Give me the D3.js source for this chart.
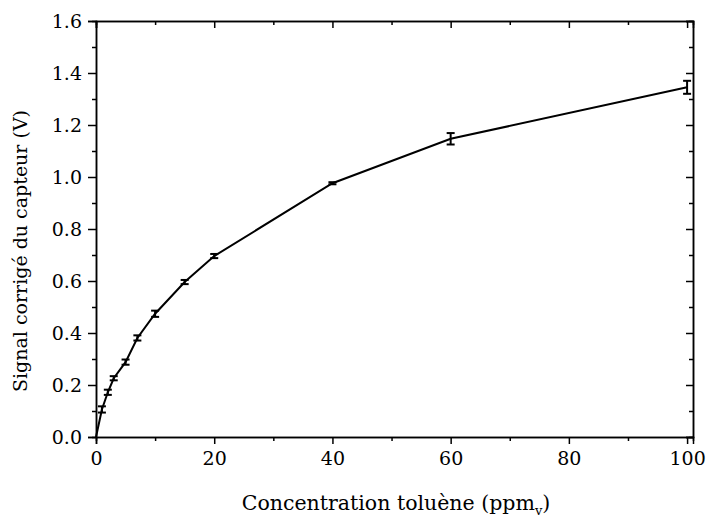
<!DOCTYPE html>
<html>
<head>
<meta charset="utf-8">
<script src="https://cdn.jsdelivr.net/npm/d3@7"></script>
<style>
  body { margin: 0; background: #fff; }
  svg text { font-family: "DejaVu Serif", serif; fill: #000; }
</style>
</head>
<body>
<div id="mydiv"></div>
<script>
// measured points (concentration ppmv, corrected signal V, error)
const conc   = [0, 1, 2, 3, 5, 7, 10, 15, 20, 40, 60, 100];
const signal = [0, 0.106, 0.172, 0.226, 0.288, 0.381, 0.474, 0.596, 0.696, 0.976, 1.147, 1.345];
const err    = [0, 0.012, 0.010, 0.008, 0.010, 0.010, 0.012, 0.008, 0.008, 0.004, 0.022, 0.025];

const xTicks = [0, 20, 40, 60, 80, 100];
const yTicks = [0.0, 0.2, 0.4, 0.6, 0.8, 1.0, 1.2, 1.4, 1.6];

const W = 708, H = 518;
const mLeft = 96, mRight = 693, mTop = 21, mBottom = 437;

const svg = d3.select("#mydiv")
  .append("svg")
  .attr("width", W)
  .attr("height", H);

const x = d3.scaleLinear().domain([0, 101]).range([mLeft, mRight]);
const y = d3.scaleLinear().domain([0, 1.6]).range([mBottom, mTop]);

const xMinor = d3.range(10, 101, 20);
const yMinor = d3.range(0.1, 1.6, 0.2);

// major ticks + labels, left & bottom (outside)
svg.append("g").attr("transform", `translate(0,${mBottom})`)
  .call(d3.axisBottom(x).tickValues(xTicks).tickSize(7).tickPadding(8).tickFormat(d3.format("d")));
svg.append("g").attr("transform", `translate(${mLeft},0)`)
  .call(d3.axisLeft(y).tickValues(yTicks).tickSize(8).tickPadding(6).tickFormat(d3.format(".1f")));
// minor ticks
svg.append("g").attr("transform", `translate(0,${mBottom})`)
  .call(d3.axisBottom(x).tickValues(xMinor).tickSize(4).tickFormat(""));
svg.append("g").attr("transform", `translate(${mLeft},0)`)
  .call(d3.axisLeft(y).tickValues(yMinor).tickSize(4).tickFormat(""));

// top & right (inside ticks)
svg.append("g").attr("transform", `translate(0,${mTop})`)
  .call(d3.axisTop(x).tickValues(xTicks).tickSize(-7).tickFormat(""));
svg.append("g").attr("transform", `translate(0,${mTop})`)
  .call(d3.axisTop(x).tickValues(xMinor).tickSize(-4).tickFormat(""));
svg.append("g").attr("transform", `translate(${mRight},0)`)
  .call(d3.axisRight(y).tickValues(yTicks).tickSize(-7).tickFormat(""));
svg.append("g").attr("transform", `translate(${mRight},0)`)
  .call(d3.axisRight(y).tickValues(yMinor).tickSize(-4).tickFormat(""));

svg.selectAll(".domain").attr("stroke", "#000").attr("stroke-width", 1.5);
svg.selectAll(".tick line").attr("stroke", "#000").attr("stroke-width", 1.5);
svg.selectAll(".tick text").style("font-size", "19px").attr("fill", "#000");

// the curve
const pts = conc.map((c, i) => ({ c, s: signal[i], e: err[i] }));
svg.append("path")
  .datum(pts)
  .attr("fill", "none")
  .attr("stroke", "#000")
  .attr("stroke-width", 2)
  .attr("d", d3.line().x(d => x(d.c)).y(d => y(d.s)));

// error bars
const eb = svg.append("g").attr("stroke", "#000").attr("stroke-width", 2)
  .selectAll("g").data(pts.filter(d => d.e > 0)).enter().append("g");
eb.append("line")
  .attr("x1", d => x(d.c)).attr("x2", d => x(d.c))
  .attr("y1", d => y(d.s - d.e)).attr("y2", d => y(d.s + d.e));
eb.append("line")
  .attr("x1", d => x(d.c) - 4).attr("x2", d => x(d.c) + 4)
  .attr("y1", d => y(d.s - d.e)).attr("y2", d => y(d.s - d.e));
eb.append("line")
  .attr("x1", d => x(d.c) - 4).attr("x2", d => x(d.c) + 4)
  .attr("y1", d => y(d.s + d.e)).attr("y2", d => y(d.s + d.e));

// axis titles
const xt = svg.append("text")
  .attr("x", 396).attr("y", 510)
  .attr("text-anchor", "middle")
  .style("font-size", "20.5px");
xt.append("tspan").text("Concentration toluène (ppm");
xt.append("tspan").attr("dy", 5).style("font-size", "13px").text("v");
xt.append("tspan").attr("dy", -5).text(")");

svg.append("text")
  .attr("transform", "translate(27,251) rotate(-90)")
  .attr("text-anchor", "middle")
  .style("font-size", "19px")
  .text("Signal corrigé du capteur (V)");
</script>
</body>
</html>
